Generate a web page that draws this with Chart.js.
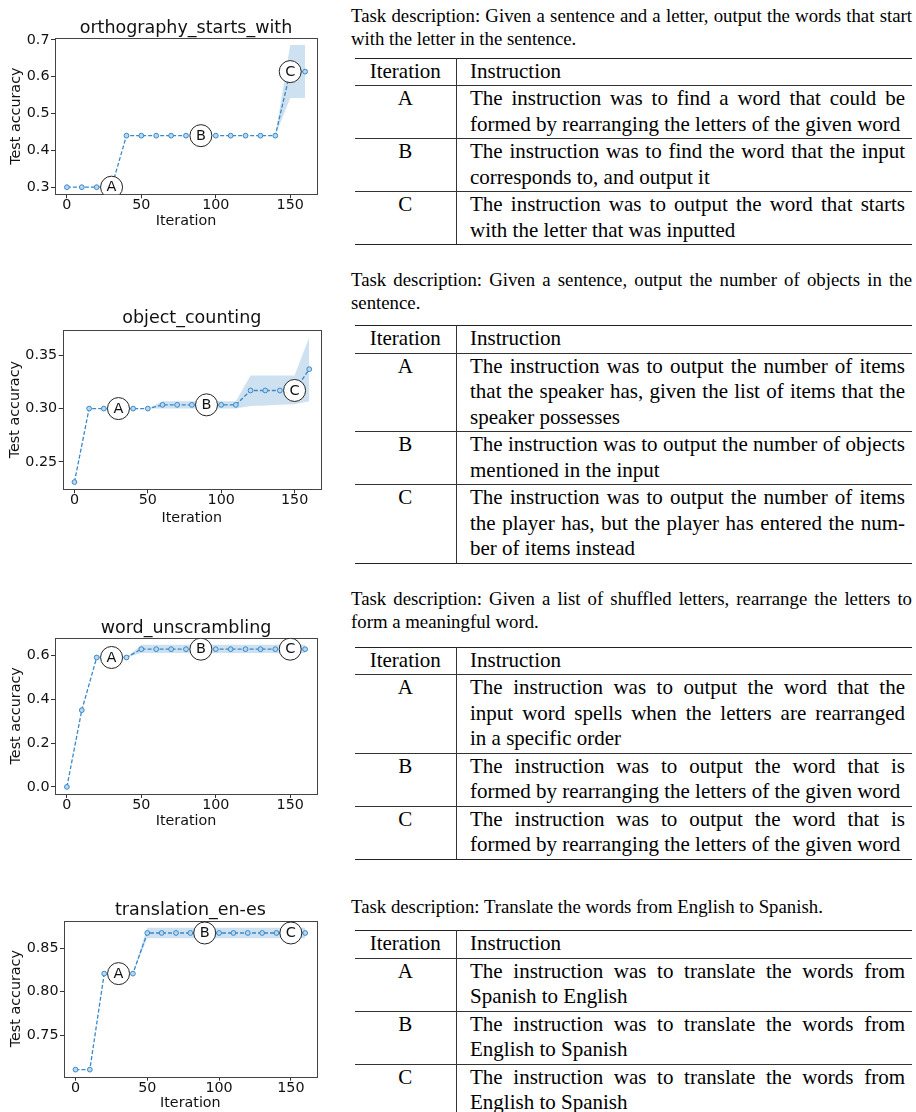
<!DOCTYPE html>
<html>
<head>
<meta charset="utf-8">
<title>Instruction evolution per task</title>
<script src="https://cdn.jsdelivr.net/npm/chart.js"></script>
<style>
  body { margin: 0; background: #fff; }
  #page { position: relative; width: 916px; height: 1112px; overflow: hidden; background: #fff; }
  canvas.plot { position: absolute; left: 0; }
  .task {
    position: absolute; left: 351px; width: 561px;
    font-family: "Liberation Serif", "Times New Roman", serif;
    font-size: 18.8px; line-height: 23px; color: #000;
  }
  .j { text-align: justify; text-align-last: justify; }
  table.instr {
    position: absolute; left: 355px; width: 557px;
    border-collapse: collapse; table-layout: fixed;
    font-family: "Liberation Serif", "Times New Roman", serif;
    font-size: 21px; line-height: 25.5px; color: #000;
  }
  table.instr td { padding: 0 0 1px 0; vertical-align: top; box-sizing: border-box; border-bottom: 1px solid #333; }
  table.instr tr.first td { border-top: 1.5px solid #222; }
  table.instr tr.last td { border-bottom: 1.5px solid #222; }
  td.it { width: 101px; text-align: center; border-right: 1px solid #333; }
  td.tx { width: 456px; padding-left: 13.5px !important; padding-right: 7px !important; }
</style>
</head>
<body>
<div id="page">
  <canvas id="c0" class="plot" width="340" height="235" style="top:0px"></canvas>
  <canvas id="c1" class="plot" width="340" height="245" style="top:290px"></canvas>
  <canvas id="c2" class="plot" width="340" height="240" style="top:595px"></canvas>
  <canvas id="c3" class="plot" width="340" height="232" style="top:880px"></canvas>

  <div class="task" style="top:3.5px">
    <div class="j">Task description: Given a sentence and a letter, output the words that start</div>
    <div>with the letter in the sentence.</div>
  </div>
  <table class="instr" style="top:57.5px">
    <tr class="first"><td class="it">Iteration</td><td class="tx">Instruction</td></tr>
    <tr><td class="it">A</td><td class="tx"><div class="j">The instruction was to find a word that could be</div><div>formed by rearranging the letters of the given word</div></td></tr>
    <tr><td class="it">B</td><td class="tx"><div class="j">The instruction was to find the word that the input</div><div>corresponds to, and output it</div></td></tr>
    <tr class="last"><td class="it">C</td><td class="tx"><div class="j">The instruction was to output the word that starts</div><div>with the letter that was inputted</div></td></tr>
  </table>

  <div class="task" style="top:267.5px">
    <div class="j">Task description: Given a sentence, output the number of objects in the</div>
    <div>sentence.</div>
  </div>
  <table class="instr" style="top:325px">
    <tr class="first"><td class="it">Iteration</td><td class="tx">Instruction</td></tr>
    <tr><td class="it">A</td><td class="tx"><div class="j">The instruction was to output the number of items</div><div class="j">that the speaker has, given the list of items that the</div><div>speaker possesses</div></td></tr>
    <tr><td class="it">B</td><td class="tx"><div class="j">The instruction was to output the number of objects</div><div>mentioned in the input</div></td></tr>
    <tr class="last"><td class="it">C</td><td class="tx"><div class="j">The instruction was to output the number of items</div><div class="j">the player has, but the player has entered the num-</div><div>ber of items instead</div></td></tr>
  </table>

  <div class="task" style="top:587px">
    <div class="j">Task description: Given a list of shuffled letters, rearrange the letters to</div>
    <div>form a meaningful word.</div>
  </div>
  <table class="instr" style="top:646.5px">
    <tr class="first"><td class="it">Iteration</td><td class="tx">Instruction</td></tr>
    <tr><td class="it">A</td><td class="tx"><div class="j">The instruction was to output the word that the</div><div class="j">input word spells when the letters are rearranged</div><div>in a specific order</div></td></tr>
    <tr><td class="it">B</td><td class="tx"><div class="j">The instruction was to output the word that is</div><div>formed by rearranging the letters of the given word</div></td></tr>
    <tr class="last"><td class="it">C</td><td class="tx"><div class="j">The instruction was to output the word that is</div><div>formed by rearranging the letters of the given word</div></td></tr>
  </table>

  <div class="task" style="top:895px">
    <div>Task description: Translate the words from English to Spanish.</div>
  </div>
  <table class="instr" style="top:930px">
    <tr class="first"><td class="it">Iteration</td><td class="tx">Instruction</td></tr>
    <tr><td class="it">A</td><td class="tx"><div class="j">The instruction was to translate the words from</div><div>Spanish to English</div></td></tr>
    <tr><td class="it">B</td><td class="tx"><div class="j">The instruction was to translate the words from</div><div>English to Spanish</div></td></tr>
    <tr class="last"><td class="it">C</td><td class="tx"><div class="j">The instruction was to translate the words from</div><div>English to Spanish</div></td></tr>
  </table>
</div>

<script>
// x positions shared by all four runs
const iterations = [0, 10, 20, 30, 40, 50, 60, 70, 80, 90, 100, 110, 120, 130, 140, 150, 160];
const xTickLabels = ['0', '50', '100', '150'];

// where the A / B / C instructions sit
const markIters = [30, 90, 150];
const markLetters = ['A', 'B', 'C'];

// orthography_starts_with
const orthoMean  = [0.300, 0.300, 0.300, 0.300, 0.440, 0.440, 0.440, 0.440, 0.440, 0.440, 0.440, 0.440, 0.440, 0.440, 0.440, 0.614, 0.614];
const orthoUpper = [0.300, 0.300, 0.300, 0.300, 0.440, 0.440, 0.440, 0.440, 0.440, 0.440, 0.440, 0.440, 0.440, 0.440, 0.440, 0.686, 0.686];
const orthoLower = [0.300, 0.300, 0.300, 0.300, 0.440, 0.440, 0.440, 0.440, 0.440, 0.440, 0.440, 0.440, 0.440, 0.440, 0.440, 0.542, 0.542];
const orthoTicks = ['0.3', '0.4', '0.5', '0.6', '0.7'];

// object_counting
const countMean  = [0.231, 0.300, 0.300, 0.300, 0.300, 0.300, 0.3035, 0.3035, 0.3035, 0.3035, 0.3035, 0.3035, 0.317, 0.317, 0.317, 0.317, 0.337];
const countUpper = [0.231, 0.300, 0.300, 0.300, 0.300, 0.300, 0.307, 0.307, 0.307, 0.307, 0.307, 0.307, 0.331, 0.331, 0.331, 0.331, 0.367];
const countLower = [0.231, 0.300, 0.300, 0.300, 0.300, 0.300, 0.300, 0.300, 0.300, 0.300, 0.300, 0.300, 0.3025, 0.303, 0.3035, 0.304, 0.307];
const countTicks = ['0.25', '0.30', '0.35'];

// word_unscrambling
const unscrMean  = [0.000, 0.351, 0.592, 0.592, 0.592, 0.630, 0.630, 0.630, 0.630, 0.630, 0.630, 0.630, 0.630, 0.630, 0.630, 0.630, 0.630];
const unscrUpper = [0.000, 0.351, 0.592, 0.592, 0.592, 0.650, 0.650, 0.650, 0.650, 0.650, 0.650, 0.650, 0.650, 0.650, 0.650, 0.650, 0.650];
const unscrLower = [0.000, 0.351, 0.592, 0.592, 0.592, 0.612, 0.612, 0.612, 0.612, 0.612, 0.612, 0.612, 0.612, 0.612, 0.612, 0.612, 0.612];
const unscrTicks = ['0.0', '0.2', '0.4', '0.6'];

// translation_en-es
const transMean  = [0.710, 0.710, 0.821, 0.821, 0.821, 0.868, 0.868, 0.868, 0.868, 0.868, 0.868, 0.868, 0.868, 0.868, 0.868, 0.868, 0.868];
const transUpper = [0.710, 0.710, 0.821, 0.821, 0.821, 0.874, 0.874, 0.874, 0.874, 0.874, 0.874, 0.874, 0.874, 0.874, 0.874, 0.874, 0.874];
const transLower = [0.710, 0.710, 0.821, 0.821, 0.821, 0.862, 0.862, 0.862, 0.862, 0.862, 0.862, 0.862, 0.862, 0.862, 0.862, 0.862, 0.862];
const transTicks = ['0.75', '0.80', '0.85'];

const FONT = '"DejaVu Sans", Verdana, sans-serif';
const TXT = '#111';
const LINE = '#3a88c8';
const BAND = 'rgba(58,136,200,0.25)';

// page placement of each panel (canvas box, plot box, text centres)
const panels = [
  { id: 'c0', title: 'orthography_starts_with', mean: orthoMean, upper: orthoUpper, lower: orthoLower, yLabels: orthoTicks,
    top: 0, height: 235, plot: { l: 55, r: 317, t: 38, b: 194.3 }, titleY: 28, xTitleY: 221.7, yTitleX: 16.7 },
  { id: 'c1', title: 'object_counting', mean: countMean, upper: countUpper, lower: countLower, yLabels: countTicks,
    top: 290, height: 245, plot: { l: 62.7, r: 321, t: 330, b: 489.3 }, titleY: 318, xTitleY: 518.3, yTitleX: 15 },
  { id: 'c2', title: 'word_unscrambling', mean: unscrMean, upper: unscrUpper, lower: unscrLower, yLabels: unscrTicks,
    top: 595, height: 240, plot: { l: 55, r: 317, t: 637.7, b: 794 }, titleY: 628, xTitleY: 821.7, yTitleX: 16.7 },
  { id: 'c3', title: 'translation_en-es', mean: transMean, upper: transUpper, lower: transLower, yLabels: transTicks,
    top: 880, height: 232, plot: { l: 64, r: 316.7, t: 920.7, b: 1076.7 }, titleY: 910.7, xTitleY: 1103.3, yTitleX: 16.7 }
];

// box round the plot and the letters inside the marker circles
const decorate = {
  id: 'decorate',
  beforeDatasetsDraw(chart) {
    const a = chart.chartArea, ctx = chart.ctx;
    ctx.save();
    ctx.strokeStyle = '#444';
    ctx.lineWidth = 1;
    ctx.strokeRect(Math.round(a.left) + 0.5, Math.round(a.top) + 0.5, Math.round(a.right - a.left), Math.round(a.bottom - a.top));
    ctx.restore();
  },
  afterDatasetsDraw(chart) {
    const ctx = chart.ctx;
    const meta = chart.getDatasetMeta(0);
    ctx.save();
    ctx.fillStyle = '#111';
    ctx.font = '14.5px ' + FONT;
    ctx.textAlign = 'center';
    ctx.textBaseline = 'middle';
    meta.data.forEach((el, i) => ctx.fillText(markLetters[i], el.x, el.y + 0.5));
    ctx.restore();
  }
};

function makeChart(p) {
  const W = 340;
  const lo = Math.min(...p.lower), hi = Math.max(...p.upper);
  const m = (hi - lo) * 0.05;
  const pts = arr => iterations.map((x, i) => ({ x: x, y: arr[i] }));
  const marks = markIters.map(x => ({ x: x, y: p.mean[iterations.indexOf(x)] }));
  const tickFont = { family: FONT, size: 14.3, lineHeight: 1 };

  return new Chart(document.getElementById(p.id).getContext('2d'), {
    type: 'line',
    data: {
      datasets: [
        { data: marks, showLine: false, pointRadius: 11, pointBackgroundColor: '#fff',
          pointBorderColor: '#222', pointBorderWidth: 1 },
        { data: pts(p.mean), borderColor: LINE, borderWidth: 1.3, borderDash: [4, 2], fill: false,
          pointRadius: 2.4, pointBackgroundColor: '#b9d7ef', pointBorderColor: LINE, pointBorderWidth: 1 },
        { data: pts(p.upper), borderColor: 'transparent', borderWidth: 0, pointRadius: 0,
          backgroundColor: BAND, fill: '+1' },
        { data: pts(p.lower), borderColor: 'transparent', borderWidth: 0, pointRadius: 0, fill: false }
      ]
    },
    options: {
      responsive: false,
      animation: false,
      events: [],
      layout: { padding: { left: 0, right: W - p.plot.r, top: 0, bottom: 0 } },
      plugins: {
        legend: { display: false },
        tooltip: { enabled: false },
        title: {
          display: true, fullSize: false, text: p.title, color: TXT,
          font: { family: FONT, size: 17.5, weight: 'normal', lineHeight: 1 },
          padding: { top: p.titleY - p.top - 8.75, bottom: p.plot.t - p.titleY - 8.75 }
        }
      },
      scales: {
        x: {
          type: 'linear', min: -8, max: 168,
          afterBuildTicks: s => { s.ticks = xTickLabels.map(v => ({ value: Number(v) })); },
          afterFit: s => { s.height = p.top + p.height - p.plot.b; },
          ticks: { color: TXT, font: tickFont, padding: 0, maxRotation: 0, autoSkip: false,
                   callback: (v, i) => xTickLabels[i] },
          grid: { display: true, drawOnChartArea: false, drawTicks: true, tickLength: 4, color: '#333' },
          border: { display: false },
          title: { display: true, text: 'Iteration', color: TXT, font: tickFont,
                   padding: { top: 0, bottom: p.top + p.height - p.xTitleY - 7.15 } }
        },
        y: {
          type: 'linear', min: lo - m, max: hi + m,
          afterBuildTicks: s => { s.ticks = p.yLabels.map(v => ({ value: Number(v) })); },
          afterFit: s => { s.width = p.plot.l; },
          ticks: { color: TXT, font: tickFont, padding: 1.5, autoSkip: false,
                   callback: (v, i) => p.yLabels[i] },
          grid: { display: true, drawOnChartArea: false, drawTicks: true, tickLength: 4, color: '#333' },
          border: { display: false },
          title: { display: true, text: 'Test accuracy', color: TXT, font: tickFont,
                   padding: { top: p.yTitleX - 7.15, bottom: 0 } }
        }
      }
    },
    plugins: [decorate]
  });
}

panels.forEach(makeChart);
</script>
</body>
</html>
